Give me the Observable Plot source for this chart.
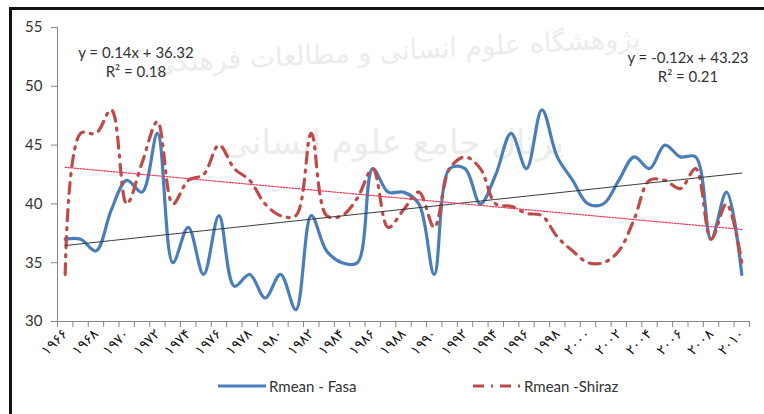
<!DOCTYPE html>
<html><head><meta charset="utf-8">
<script src="https://cdn.jsdelivr.net/npm/d3@7"></script>
<script src="https://cdn.jsdelivr.net/npm/@observablehq/plot@0.6"></script>
<style>
html,body{margin:0;padding:0;background:#fff;}
body{width:764px;height:414px;overflow:hidden;position:relative;font-family:Lato,"Open Sans",sans-serif;}
#frame{position:absolute;left:9px;top:7px;width:770px;height:420px;border-left:3px solid #111;border-top:3px solid #111;box-sizing:border-box;}
.wm{position:absolute;color:#ececec;font-family:"DejaVu Sans",sans-serif;white-space:nowrap;direction:rtl;}
#chart{position:absolute;left:0;top:0;}
.leg{position:absolute;top:377px;font-size:15px;color:#333;display:flex;align-items:center;white-space:nowrap;}
.leg svg{margin-right:3px;}
</style></head>
<body>
<div id="frame"></div>
<div class="wm" id="wm1" style="right:124px;top:22px;font-size:27px;transform:rotate(-3deg);transform-origin:right center;"></div>
<div class="wm" id="wm2" style="right:200px;top:122px;font-size:34px;"></div>
<div id="chart"></div>
<div class="leg" id="leg1" style="left:218px;"></div>
<div class="leg" id="leg2" style="left:473px;"></div>
<script>
// ---- data ----
const years = [1966,1967,1968,1969,1970,1971,1972,1973,1974,1975,1976,1977,1978,1979,1980,1981,1982,1983,1984,1985,1986,1987,1988,1989,1990,1991,1992,1993,1994,1995,1996,1997,1998,1999,2000,2001,2002,2003,2004,2005,2006,2007,2008,2009,2010];
const fasa = [37,37,36,39.5,42,41,46,35,38,34,39,33,34,32,34,31,39,36,35,35,43,41,41,40,34,43,43,40,42.5,46,43,48,44,42,40,40,42,44,43,45,44,44,37,41,34];
const shiraz = [34,46,46,48,40,43.5,47,40,42,42.5,45,43,42,40,39,39,46,39,39,40.5,43,38,39.5,41,38,43,44,43,40,39.8,39.2,39,37.2,36,35,35,36,38.7,42,42,41.3,43,37,40,35];
const xTickYears = [1966,1968,1970,1972,1974,1976,1978,1980,1982,1984,1986,1988,1990,1992,1994,1996,1998,2000,2002,2004,2006,2008,2010];
const yTicks = [30,35,40,45,50,55];
const seriesNames = ["Rmean - Fasa","Rmean -Shiraz"];
const fasaTrendCoef = [0.14, 36.32];
const shirazTrendCoef = [-0.12, 43.23];
const fasaTrendText = ["y = 0.14x + 36.32","R\u00b2 = 0.18"];
const shirazTrendText = ["y = -0.12x + 43.23","R\u00b2 = 0.21"];
const watermarkText = ["پژوهشگاه علوم انسانی و مطالعات فرهنگی","پرتال جامع علوم انسانی"];

// ---- helpers ----
const faDigits = "۰۱۲۳۴۵۶۷۸۹";
const toFa = v => String(v).replace(/[0-9]/g, d => faDigits[+d]);
const rows = years.map((yr,i)=>({year:yr, fasa:fasa[i], shiraz:shiraz[i],
  fTrend: fasaTrendCoef[0]*(i+1)+fasaTrendCoef[1],
  sTrend: shirazTrendCoef[0]*(i+1)+shirazTrendCoef[1]}));
const boundaries = years.map(y=>y-0.5).concat([years[years.length-1]+0.5]);

const blue = "#4a7ebb", red = "#be4b48", axisGrey = "#868686";
const redDash = "11,7,2,7";

document.getElementById("wm1").textContent = watermarkText[0];
document.getElementById("wm2").textContent = watermarkText[1];

const chart = Plot.plot({
  width: 764, height: 362,
  marginLeft: 57, marginRight: 15, marginTop: 27, marginBottom: 41,
  x: {domain: [boundaries[0], boundaries[boundaries.length-1]]},
  y: {domain: [30, 55]},
  style: {fontFamily: "Lato, 'Open Sans', sans-serif", fontSize: "15px", color: "#333", background: "transparent", overflow: "visible"},
  marks: [
    Plot.ruleY([30], {stroke: axisGrey}),
    Plot.ruleX([boundaries[0]], {stroke: axisGrey}),
    Plot.axisY({ticks: yTicks, tickSize: 6, tickPadding: 9, stroke: axisGrey, label: null, fontSize: 15}),
    Plot.axisX({ticks: boundaries, tickSize: 6, tickFormat: () => "", stroke: axisGrey, label: null}),
    Plot.axisX({ticks: xTickYears, tickSize: 0, tickPadding: 10, tickRotate: -45, tickFormat: toFa, label: null,
      fontFamily: "'DejaVu Sans', sans-serif", fontSize: 14, fill: "#111"}),
    Plot.line(rows, {x: "year", y: "fasa", curve: "catmull-rom", stroke: blue, strokeWidth: 3.2}),
    Plot.line(rows, {x: "year", y: "shiraz", curve: "catmull-rom", stroke: red, strokeWidth: 3.2, strokeDasharray: redDash}),
    Plot.line(rows, {x: "year", y: "fTrend", stroke: "#3a3a3a", strokeWidth: 1}),
    Plot.line(rows, {x: "year", y: "sTrend", stroke: "#ee3355", strokeWidth: 1.2, strokeDasharray: "1.5,1.5"}),
    Plot.text([fasaTrendText[0]], {x: 1970.6, y: 52.8, text: d => d, fontSize: 15, fill: "#333"}),
    Plot.text([fasaTrendText[1]], {x: 1970.6, y: 51.2, text: d => d, fontSize: 15, fill: "#333"}),
    Plot.text([shirazTrendText[0]], {x: 2006.5, y: 52.35, text: d => d, fontSize: 15, fill: "#333"}),
    Plot.text([shirazTrendText[1]], {x: 2006.5, y: 50.75, text: d => d, fontSize: 15, fill: "#333"})
  ]
});
document.getElementById("chart").appendChild(chart);

function legendItem(el, name, color, dash) {
  const ns = "http://www.w3.org/2000/svg";
  const s = document.createElementNS(ns, "svg");
  s.setAttribute("width", 48); s.setAttribute("height", 10);
  const l = document.createElementNS(ns, "line");
  l.setAttribute("x1", 0); l.setAttribute("x2", 48); l.setAttribute("y1", 5); l.setAttribute("y2", 5);
  l.setAttribute("stroke", color); l.setAttribute("stroke-width", 3.2);
  if (dash) l.setAttribute("stroke-dasharray", dash);
  s.appendChild(l);
  el.appendChild(s);
  const t = document.createElement("span"); t.textContent = name; el.appendChild(t);
}
legendItem(document.getElementById("leg1"), seriesNames[0], blue, null);
legendItem(document.getElementById("leg2"), seriesNames[1], red, redDash);
</script>
</body></html>
